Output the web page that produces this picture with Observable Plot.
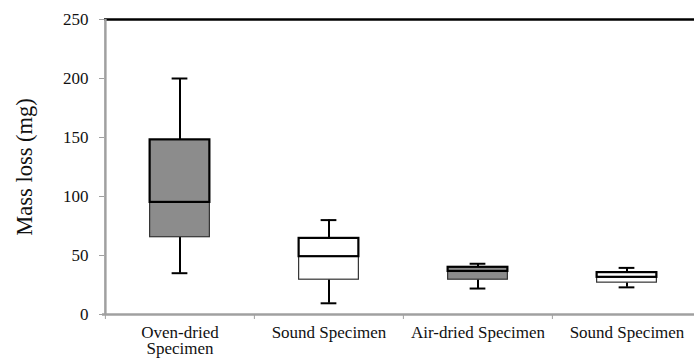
<!DOCTYPE html>
<html>
<head>
<meta charset="utf-8">
<script src="https://cdn.jsdelivr.net/npm/d3@7"></script>
<script src="https://cdn.jsdelivr.net/npm/@observablehq/plot@0.6"></script>
<style>
  html, body { margin: 0; padding: 0; background: #fff; overflow: hidden; }
</style>
</head>
<body>
<div id="chart"></div>
<script>
// ---- data ----
const ids = ["oven", "sound1", "air", "sound2"];
const labels = ["Oven-dried\nSpecimen", "Sound Specimen", "Air-dried Specimen", "Sound Specimen"];
const kinds = ["dried", "sound", "dried", "sound"];
const mins = [35, 9.5, 22, 23];
const q1s = [65.5, 29.5, 29.5, 27];
const medians = [95, 49, 36.5, 31.5];
const q3s = [148, 64.5, 40, 35.5];
const maxs = [200, 80, 43, 39.5];
const yTicks = [0, 50, 100, 150, 200, 250];
const yLabel = "Mass loss (mg)";

const data = ids.map((id, i) => ({
  id, kind: kinds[i], min: mins[i], q1: q1s[i], median: medians[i], q3: q3s[i], max: maxs[i]
}));

// ---- layout ----
const W = 694, H = 360, ML = 104, MR = -7, MT = 19, MB = 46;
const bw = (W - ML - MR) / ids.length;
const boxW = 60, capW = 16;
const boxInset = (bw - boxW) / 2, capInset = (bw - capW) / 2;
const axisGray = "#a0a0a0";
const serif = "'Liberation Serif', 'Times New Roman', serif";

const chart = Plot.plot({
  width: W, height: H,
  marginLeft: ML, marginRight: MR, marginTop: MT, marginBottom: MB,
  style: { fontFamily: serif, fontSize: "17px", background: "white", color: "#000", overflow: "visible" },
  x: { domain: ids, padding: 0, axis: null },
  y: { domain: [0, 250], axis: null },
  color: { domain: ["dried", "sound"], range: ["#8c8c8c", "#ffffff"] },
  marks: [
    Plot.ruleY([0], { stroke: axisGray, strokeWidth: 2.5, insetLeft: -2 }),
    Plot.ruleY([250], { stroke: "#000", strokeWidth: 2.5 }),
    Plot.ruleX(ids.slice(0, 1), { x: d => d, dx: -bw / 2, y1: 0, y2: 250, stroke: axisGray, strokeWidth: 2.5 }),
    Plot.axisX({ tickSize: 5, tickFormat: () => "", dx: -bw / 2, stroke: axisGray, label: null }),
    Plot.axisX({ tickSize: 0, tickPadding: 12, tickFormat: d => labels[ids.indexOf(d)], lineHeight: 0.95, fontSize: 17, fontFamily: serif, fill: "#111", label: null }),
    Plot.axisY({ ticks: yTicks, tickSize: 5, tickPadding: 11, stroke: axisGray, fontSize: 17, fontFamily: serif, fill: "#111", label: null }),
    Plot.text([yLabel], { frameAnchor: "left", textAnchor: "middle", lineAnchor: "middle", dx: -80, rotate: -90, fontSize: 22.5, fontFamily: serif, fill: "#111" }),
    // whiskers
    Plot.ruleX(data, { x: "id", y1: "min", y2: "q1", stroke: "#000", strokeWidth: 2 }),
    Plot.ruleX(data, { x: "id", y1: "q3", y2: "max", stroke: "#000", strokeWidth: 2 }),
    Plot.tickY(data, { x: "id", y: "min", insetLeft: capInset, insetRight: capInset, stroke: "#000", strokeWidth: 2 }),
    Plot.tickY(data, { x: "id", y: "max", insetLeft: capInset, insetRight: capInset, stroke: "#000", strokeWidth: 2 }),
    // boxes
    Plot.barY(data, { x: "id", y1: "q1", y2: "median", fill: "kind", stroke: "#333", strokeWidth: 1.2, insetLeft: boxInset, insetRight: boxInset }),
    Plot.barY(data, { x: "id", y1: "median", y2: "q3", fill: "kind", stroke: "#000", strokeWidth: 2.2, insetLeft: boxInset, insetRight: boxInset })
  ]
});
document.getElementById("chart").appendChild(chart);
</script>
</body>
</html>
